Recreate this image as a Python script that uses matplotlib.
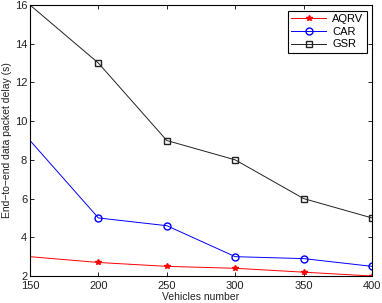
import matplotlib

matplotlib.use("Agg")
import matplotlib.pyplot as plt  # noqa: E402

vehicles = [150, 200, 250, 300, 350, 400]
aqrv = [3.0, 2.7, 2.5, 2.4, 2.2, 2.0]
car = [9.0, 5.0, 4.6, 3.0, 2.9, 2.5]
gsr = [16.0, 13.0, 9.0, 8.0, 6.0, 5.0]

plt.rcParams["font.family"] = ["Liberation Sans", "DejaVu Sans"]

fig = plt.figure(figsize=(3.82, 3.03), dpi=100)
ax = fig.add_axes([0.0785, 0.089, 0.8955, 0.8945])

marks = list(range(1, len(vehicles)))
ax.plot(vehicles, aqrv, color="red", lw=0.7, marker="*", ms=4,
        markevery=marks, label="AQRV")
ax.plot(vehicles, car, color="blue", lw=0.7, marker="o", ms=5, mfc="none",
        markevery=marks, label="CAR")
ax.plot(vehicles, gsr, color="#222222", lw=0.7, marker="s", ms=5, mfc="none",
        markevery=marks, label="GSR")

ax.set_xlim(150, 400)
ax.set_ylim(2, 16)
ax.set_xticks(vehicles)
ax.set_yticks(range(2, 17, 2))
ax.tick_params(direction="in", top=True, right=True, labelsize=8,
               length=3, width=0.6, pad=2, labelcolor="#222222")
ax.tick_params(axis="x", pad=3.5)
for s in ax.spines.values():
    s.set_linewidth(0.8)
ax.set_xlabel("Vehicles number", fontsize=7.5, labelpad=1, color="#222222")
ax.set_ylabel("End\u2212to\u2212end data packet delay (s)", fontsize=7.5,
              labelpad=2, color="#222222")

leg = ax.legend(loc="upper right", fontsize=8, fancybox=False, framealpha=1,
                edgecolor="black", borderaxespad=0.5, handlelength=3.2,
                labelspacing=0.25, borderpad=0.3, handletextpad=0.5)
leg.get_frame().set_linewidth(0.8)

fig.savefig("out.png", dpi=100)
